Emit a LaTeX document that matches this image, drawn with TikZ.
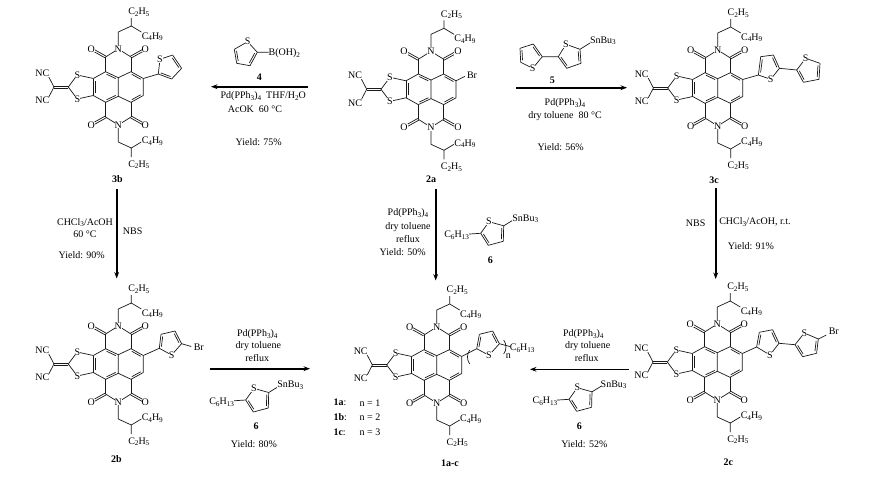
\documentclass[tikz,border=0pt]{standalone}
\usepackage{fontspec}
\setmainfont{Liberation Serif}
\usetikzlibrary{calc,arrows.meta}
\newcommand\sbs[1]{\raisebox{-0.35ex}[0pt][0pt]{\fontsize{7.2}{7.2}\selectfont #1}}
\newcommand\CtH{C\sbs{2}H\sbs{5}}
\newcommand\CfH{C\sbs{4}H\sbs{9}}
\newcommand\CsH{C\sbs{6}H\sbs{13}}
\newcommand\SnB{SnBu\sbs{3}}
\newcommand\PdP{Pd(PPh\sbs{3})\sbs{4}}
\newcommand\dbond[2]{%
  \draw[bond] (#1)--(#2);
  \draw[bond] ($(#1)!.14!(#2)!1.9pt!-90:(#2)$)--($(#2)!.14!(#1)!1.9pt!90:(#1)$);}
\newcommand\ddbl[2]{%
  \draw[bond] ($(#1)!1pt!90:(#2)$)--($(#2)!1pt!-90:(#1)$);
  \draw[bond] ($(#1)!1pt!-90:(#2)$)--($(#2)!1pt!90:(#1)$);}
% naphthalene diimide core with the fused dithiole; #1 = prefix of the node names
\newcommand\Core[1]{%
  \coordinate (it) at (0,-9.3); \coordinate (ib) at (0,9.3);
  \coordinate (l1) at (-12.7,-15.3); \coordinate (l2) at (-25,-8.5);
  \coordinate (l3) at (-25,8.5); \coordinate (l4) at (-12.7,15.3);
  \coordinate (r1) at (12.7,-15.3); \coordinate (r2) at (25,-8.5);
  \coordinate (r3) at (25,8.5); \coordinate (r4) at (12.7,15.3);
  \coordinate (c1) at (-12.7,-30); \coordinate (c2) at (12.7,-30);
  \coordinate (c3) at (-12.7,30); \coordinate (c4) at (12.7,30);
  \coordinate (ex) at (-50,0); \coordinate (ey) at (-64.3,0);
  \draw[bond] (it)--(ib) (r2)--(r3) (r1)--(it) (r4)--(ib) (l1)--(l2) (l3)--(l4);
  \dbond{l1}{it}\dbond{ib}{l4}\dbond{l3}{l2}\dbond{r1}{r2}\dbond{r3}{r4}
  \draw[bond] (l1)--(c1) (r1)--(c2) (l4)--(c3) (r4)--(c4);
  \draw[bond] (c1)--(0,-38)--(c2) (c3)--(0,38)--(c4);
  \ddbl{c1}{-27,-38}\ddbl{c2}{27,-38}\ddbl{c3}{-27,38}\ddbl{c4}{27,38}
  \draw[bond] (l2)--(-41,-12)--(ex)--(-41,12)--(l3);
  \ddbl{ex}{ey}
  \draw[bond] (ey)--(-69.5,-10) (ey)--(-69.5,10);
  \draw[bond] (0,-38)--(0,-55)--(13,-61)--(13,-69) (13,-61)--(23,-55);
  \draw[bond] (0,38)--(0,55)--(13,61)--(13,70) (13,61)--(23,55);
  \node[atom] (#1N1) at (0,-38) {N};
  \node[atom] (#1N2) at (0,38) {N};
  \node[atom] (#1O1) at (-27,-38) {O};
  \node[atom] (#1O2) at (27,-38) {O};
  \node[atom] (#1O3) at (-27,38) {O};
  \node[atom] (#1O4) at (27,38) {O};
  \node[atom] (#1S1) at (-41,-12) {S};
  \node[atom] (#1S2) at (-41,12) {S};
  \node[atom] (#1CNa) at (-76,-13.7) {NC};
  \node[atom] (#1CNb) at (-76,13.7) {NC};
  \node[atom] (#1Et1) at (20.5,-75.5) {\CtH};
  \node[atom] (#1Bu1) at (34,-51) {\CfH};
  \node[atom] (#1Bu2) at (34,53.5) {\CfH};
  \node[atom] (#1Et2) at (20.5,77) {\CtH};
}
% stannyl thiophene 6, anchored at the ring carbon that carries the hexyl chain; #1 = prefix
\newcommand\Rsix[1]{%
  \coordinate (t5) at (0,0); \coordinate (t2) at (23,-7.5);
  \coordinate (t3) at (22.6,8); \coordinate (t4) at (7.6,12);
  \draw[bond] (t5)--(8.3,-11.6)--(t2) (t3)--(t4);
  \dbond{t2}{t3}\dbond{t4}{t5}
  \draw[bond] (t5)--(-12.4,0.8) (t2)--(32,-13);
  \node[atom] (#1S) at (8.3,-11.6) {S};
  \node[atom,anchor=east] (#1Hx) at (-11.5,1.4) {\CsH};
  \node[atom,anchor=west] (#1Sn) at (31.5,-15.5) {\SnB};
}
\tikzset{
  bond/.style={line width=0.7pt,line join=round,draw=black!90},
  atom/.style={font=\fontsize{10}{10}\selectfont,fill=white,inner sep=0pt,text=black},
  lab/.style={font=\fontsize{10}{10}\selectfont,inner sep=0pt,text=black},
  cpd/.style={font=\fontsize{10}{10}\selectfont\bfseries,inner sep=0pt,text=black},
  rxn/.style={line width=1.6pt,draw=black,-{Stealth[length=6.5pt,width=4.8pt]}},
  rxnthin/.style={rxn,line width=1pt},
}
\begin{document}
\begin{tikzpicture}[x=1pt,y=-1pt]
\useasboundingbox (0,0) rectangle (872,482);
\fill[white] (0,0) rectangle (872,482);

% 3b
\begin{scope}[shift={(118.3,87)}]
  \Core{b3}
  \coordinate (t2) at (40,-13); \coordinate (t3) at (53.3,-8);
  \coordinate (t4) at (63.3,-18.7); \coordinate (t5) at (54.3,-32);
  \draw[bond] (25,-8.5)--(t2)--(41.7,-27.7)--(t5) (t4)--(t3);
  \dbond{t5}{t4}\dbond{t3}{t2}
  \node[atom] (b3St) at (41.7,-27.7) {S};
\end{scope}
\node[cpd] (n3b) at (117.3,179) {3b};

% 2a
\begin{scope}[shift={(431,89.3)}]
  \Core{a2}
  \draw[bond] (25,-8.5)--(34,-13);
  \node[atom] (a2Br) at (41,-14.5) {Br};
\end{scope}
\node[cpd] (n2a) at (431,179) {2a};

% 3c
\begin{scope}[shift={(717.7,88)}]
  \Core{c3}
  \coordinate (t2) at (40.7,-13); \coordinate (t3) at (43,-31.3);
  \coordinate (t4) at (55.7,-33); \coordinate (t5) at (61.7,-19.7);
  \coordinate (u2) at (79,-18); \coordinate (u5) at (102.3,-24.7);
  \coordinate (u4) at (101.3,-8.7); \coordinate (u3) at (85.7,-5.7);
  \draw[bond] (25,-8.5)--(t2) (t3)--(t4) (t5)--(53,-8.7)--(t2) (t5)--(u2);
  \dbond{t2}{t3}\dbond{t4}{t5}
  \draw[bond] (u2)--(88,-29.7)--(u5) (u4)--(u3);
  \dbond{u5}{u4}\dbond{u3}{u2}
  \node[atom] (c3Sa) at (53,-8.7) {S};
  \node[atom] (c3Sb) at (88,-29.7) {S};
\end{scope}
\node[cpd] (n3c) at (714,180.7) {3c};

% 2b
\begin{scope}[shift={(118.3,364)}]
  \Core{b2}
  \coordinate (t2) at (41,-15.7); \coordinate (t3) at (42.7,-29.7);
  \coordinate (t4) at (56.7,-33); \coordinate (t5) at (63.3,-20.3);
  \draw[bond] (25,-8.5)--(t2) (t3)--(t4) (t5)--(53.3,-9)--(t2) (t5)--(73,-17.5);
  \dbond{t2}{t3}\dbond{t4}{t5}
  \node[atom] (b2Sa) at (53.3,-9) {S};
  \node[atom] (b2Br) at (80.5,-17) {Br};
\end{scope}
\node[cpd] (n2b) at (116.5,459) {2b};

% 1a-c
\begin{scope}[shift={(436.7,365)}]
  \Core{a1}
  \coordinate (t2) at (40,-16.3); \coordinate (t3) at (42.7,-30.7);
  \coordinate (t4) at (56,-34); \coordinate (t5) at (62.7,-21.3);
  \draw[bond] (25,-8.5)--(t2) (t3)--(t4) (t5)--(52.3,-9.7)--(t2) (t5)--(75,-18);
  \dbond{t2}{t3}\dbond{t4}{t5}
  \draw[bond] (33,-15) .. controls (30,-11) and (30,-5) .. (33,-1);
  \draw[bond] (67,-25) .. controls (70,-21) and (70,-15) .. (67,-11);
  \node[atom,anchor=west] (a1Hx) at (73,-17.3) {\CsH};
  \node[atom] (a1Sa) at (52.3,-9.7) {S};
  \node[lab] (a1n) at (71.7,-8.7) {n};
\end{scope}
\node[cpd] (n1) at (450,463.3) {1a-c};

% 2c
\begin{scope}[shift={(717.3,362)}]
  \Core{c2}
  \coordinate (t2) at (39.3,-15); \coordinate (t3) at (42,-29.7);
  \coordinate (t4) at (55.3,-32.3); \coordinate (t5) at (61.7,-18.7);
  \coordinate (u2) at (77.7,-17.3); \coordinate (u5) at (101,-23);
  \coordinate (u4) at (99.3,-8.7); \coordinate (u3) at (85.3,-5.3);
  \draw[bond] (25,-8.5)--(t2) (t3)--(t4) (t5)--(52.7,-7)--(t2) (t5)--(u2);
  \dbond{t2}{t3}\dbond{t4}{t5}
  \draw[bond] (u2)--(87,-29)--(u5) (u4)--(u3) (u5)--(109,-27);
  \dbond{u5}{u4}\dbond{u3}{u2}
  \node[atom] (c2Sa) at (52.7,-7) {S};
  \node[atom] (c2Sb) at (87,-29) {S};
  \node[atom] (c2Br) at (116.5,-30.3) {Br};
\end{scope}
\node[cpd] (n2c) at (728.3,462.7) {2c};

% reagent 4
\coordinate (v2) at (257.3,52.3); \coordinate (v3) at (250,65.7);
\coordinate (v4) at (236.7,63.3); \coordinate (v5) at (234.3,49.3);
\draw[bond] (v5)--(247.7,41.7)--(v2) (v3)--(v4) (v2)--(268.5,52.3);
\dbond{v2}{v3}\dbond{v4}{v5}
\node[atom] (rS4) at (247.7,41.7) {S};
\node[atom,anchor=west] (rB) at (268.5,53.3) {B(OH)\sbs{2}};
\node[cpd] (n4) at (259.3,77.3) {4};
\coordinate (A1s) at (308,86.7); \coordinate (A1e) at (211,86.7);
\draw[rxn] (A1s)--(A1e);
\node[lab] (t1a) at (263.3,96.5) {\PdP{}\ \ THF/H\sbs{2}O};
\node[lab] (t1b) at (255,109.5) {AcOK\ \ 60 °C};
\node[lab] (t1c) at (258.7,141.7) {Yield: 75\%};

% reagent 5
\coordinate (w5) at (520,48.3); \coordinate (w4) at (520.7,62.3);
\coordinate (w2) at (542.3,56.7); \coordinate (w3) at (533.3,44);
\draw[bond] (w2)--(532.7,68.3)--(w4) (w5)--(w3);
\dbond{w3}{w2}\dbond{w4}{w5}
\coordinate (x2) at (558.3,56.7); \coordinate (x5) at (580,49.3);
\coordinate (x4) at (581,63.3); \coordinate (x3) at (566.7,68.3);
\draw[bond] (w2)--(x2)--(566,44.3)--(x5) (x4)--(x3) (x5)--(590,43);
\dbond{x5}{x4}\dbond{x3}{x2}
\node[atom] (rS5a) at (532.7,68.3) {S};
\node[atom] (rS5b) at (566,44.3) {S};
\node[atom,anchor=west] (rSn5) at (589.8,40) {\SnB};
\node[cpd] (n5) at (552.3,80) {5};
\coordinate (A2s) at (516,87.7); \coordinate (A2e) at (627,87.7);
\draw[rxn] (A2s)--(A2e);
\node[lab] (t2a) at (565,103.3) {\PdP};
\node[lab] (t2b) at (565,115.7) {dry toluene\ \ 80 °C};
\node[lab] (t2c) at (560.7,147.3) {Yield: 56\%};

% left vertical
\coordinate (A3s) at (116.7,189); \coordinate (A3e) at (116.7,278.5);
\draw[rxn] (A3s)--(A3e);
\node[lab] (t3a) at (85,221.7) {CHCl\sbs{3}/AcOH};
\node[lab] (t3b) at (85,234) {60 °C};
\node[lab] (t3c) at (81.7,255) {Yield: 90\%};
\node[lab] (t3d) at (132.7,231.7) {NBS};

% middle vertical
\coordinate (A4s) at (435.7,189); \coordinate (A4e) at (435.7,280.5);
\draw[rxn] (A4s)--(A4e);
\node[lab] (t4a) at (408,213) {\PdP};
\node[lab] (t4b) at (408,227) {dry toluene};
\node[lab] (t4c) at (408,239) {reflux};
\node[lab] (t4d) at (402.7,251.7) {Yield: 50\%};
\begin{scope}[shift={(480.7,233.3)}] \Rsix{m6} \end{scope}
\node[cpd] (n6m) at (490.3,260) {6};

% right vertical
\coordinate (A5s) at (715.7,188); \coordinate (A5e) at (715.7,279);
\draw[rxn] (A5s)--(A5e);
\node[lab] (t5a) at (695.7,223.3) {NBS};
\node[lab] (t5b) at (755,221.7) {CHCl\sbs{3}/AcOH, r.t.};
\node[lab] (t5c) at (751,245.7) {Yield: 91\%};

% lower left
\coordinate (A6s) at (210,368.7); \coordinate (A6e) at (310,368.7);
\draw[rxn] (A6s)--(A6e);
\node[lab] (t6a) at (257.3,334.3) {\PdP};
\node[lab] (t6b) at (258.3,346) {dry toluene};
\node[lab] (t6c) at (257.3,357.7) {reflux};
\begin{scope}[shift={(245.7,400)}] \Rsix{l6} \end{scope}
\node[cpd] (n6l) at (256,426.7) {6};
\node[lab] (t6d) at (254,444.3) {Yield: 80\%};

% lower right
\coordinate (A7s) at (628.5,369.3); \coordinate (A7e) at (530,369.3);
\draw[rxnthin] (A7s)--(A7e);
\node[lab] (t7a) at (583.3,334) {\PdP};
\node[lab] (t7b) at (587.7,346) {dry toluene};
\node[lab] (t7c) at (586.7,357.7) {reflux};
\begin{scope}[shift={(569,399.3)}] \Rsix{r6} \end{scope}
\node[cpd] (n6r) at (579.3,426.7) {6};
\node[lab] (t7d) at (584.3,444.3) {Yield: 52\%};

% n table
\node[lab,anchor=west] (k1) at (333.3,402.3) {\textbf{1a}:};
\node[lab,anchor=west] (k2) at (333.3,417.3) {\textbf{1b}:};
\node[lab,anchor=west] (k3) at (333.3,432.7) {\textbf{1c}:};
\node[lab] (v1) at (370,402.7) {n = 1};
\node[lab] (v2n) at (370,417) {n = 2};
\node[lab] (v3n) at (370,432) {n = 3};
\end{tikzpicture}
\end{document}
